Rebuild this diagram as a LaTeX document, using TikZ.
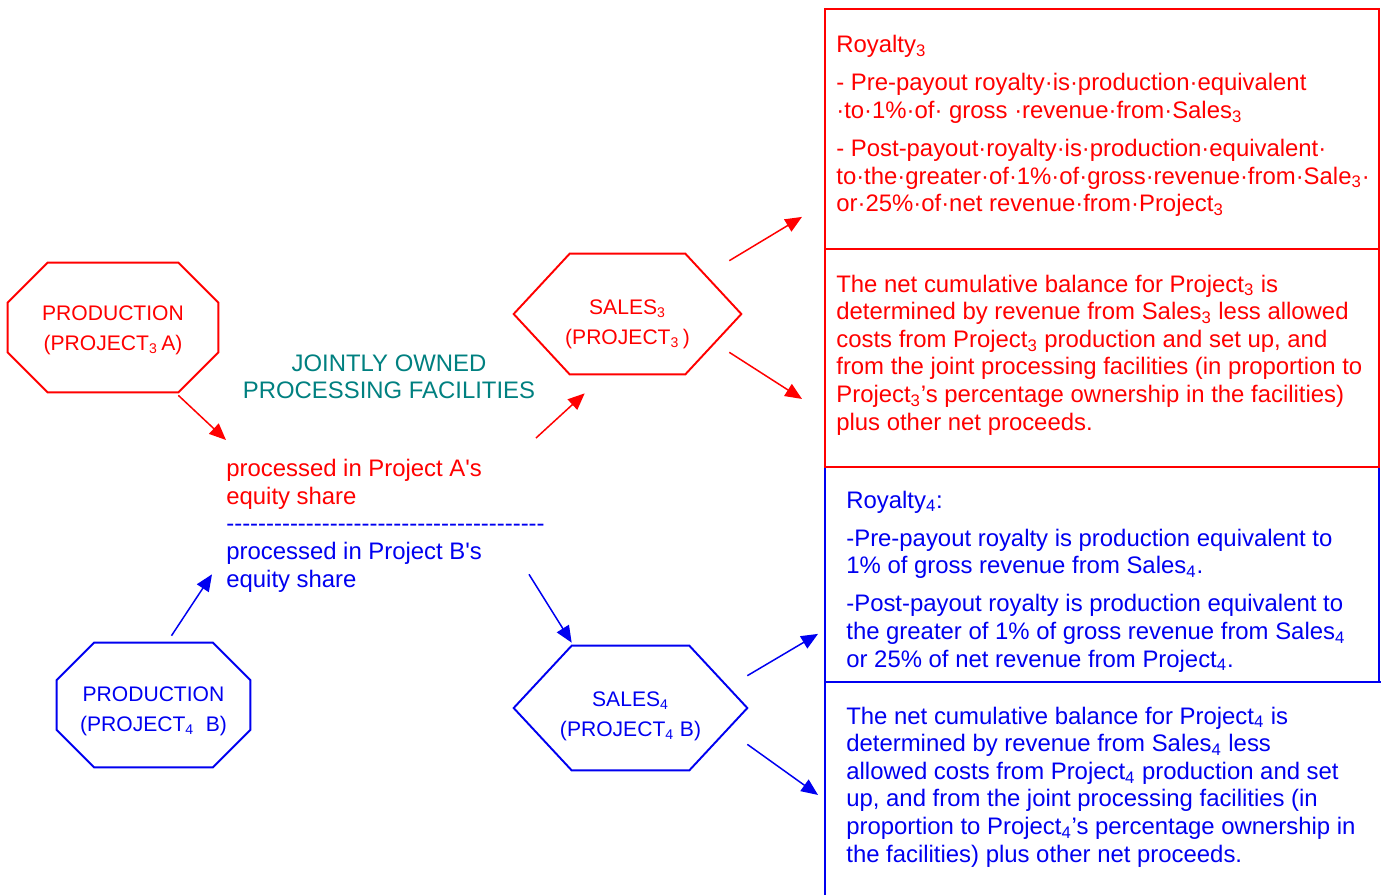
\documentclass[tikz,border=0pt]{standalone}
\usepackage{fontspec}
\setmainfont{Liberation Sans}[Ligatures=TeXOff]
\usetikzlibrary{positioning,arrows.meta}
\definecolor{pjred}{RGB}{255,0,0}
\definecolor{pjblue}{RGB}{0,0,240}
\definecolor{facteal}{RGB}{0,128,128}
\newcommand{\octoline}[3]{\draw[#3, line width=1.1pt] ([xshift=#2]#1.north west) -- ([xshift=-#2]#1.north east) -- ([yshift=-#2]#1.north east) -- ([yshift=#2]#1.south east) -- ([xshift=-#2]#1.south east) -- ([xshift=#2]#1.south west) -- ([yshift=#2]#1.south west) -- ([yshift=-#2]#1.north west) -- cycle;}
\newcommand{\hexline}[3]{\draw[#3, line width=1.1pt] ([xshift=#2]#1.north west) -- ([xshift=-#2]#1.north east) -- (#1.east) -- ([xshift=-#2]#1.south east) -- ([xshift=#2]#1.south west) -- (#1.west) -- cycle;}

\begin{document}
\begin{tikzpicture}[x=0.02cm, y=-0.02cm,
                    shapebox/.style={inner sep=0pt},
                    shapetext/.style={inner sep=0pt, align=center, font=\fontsize{12}{17}\selectfont},
                    boxnode/.style={draw, line width=1.1pt, anchor=north west, minimum width=11.08cm, inner sep=0pt},
                    boxtext/.style={align=left, inner sep=0pt, font=\fontsize{13.6}{15.7}\selectfont},
                    flow/.style={-{Triangle[length=9.5pt,width=8pt]}, line width=0.85pt}]
    \useasboundingbox (0,0) rectangle (1381,894);
    \clip (0,0) rectangle (1381,894);
    % shapes
    \node[shapebox, minimum width=4.2cm, minimum height=2.58cm]  (prodA)  at (113,327.5) {};
    \node[shapebox, minimum width=3.86cm, minimum height=2.48cm] (prodB)  at (153.5,705) {};
    \node[shapebox, minimum width=4.54cm, minimum height=2.4cm]  (sales3) at (627.5,314) {};
    \node[shapebox, minimum width=4.66cm, minimum height=2.48cm] (sales4) at (630.5,708) {};
    \octoline{prodA}{0.8cm}{pjred}
    \octoline{prodB}{0.75cm}{pjblue}
    \hexline{sales3}{1.12cm}{pjred}
    \hexline{sales4}{1.16cm}{pjblue}
    \node[shapetext, pjred]  (prodAtext)  at ([yshift=-0.05cm]prodA.center)  {PRODUCTION\\(PROJECT\textsubscript{3}\,A)};
    \node[shapetext, pjblue] (prodBtext)  at ([yshift=-0.12cm]prodB.center)  {PRODUCTION\\(PROJECT\textsubscript{4}~ B)};
    \node[shapetext, pjred]  (sales3text) at ([yshift=-0.2cm]sales3.center)  {SALES\textsubscript{3}\\(PROJECT\textsubscript{3}\,)};
    \node[shapetext, pjblue] (sales4text) at ([yshift=-0.16cm]sales4.center) {SALES\textsubscript{4}\\(PROJECT\textsubscript{4} B)};
    % texts
    \node[boxtext, facteal, align=center, font=\fontsize{13.6}{15.3}\selectfont] (joint) at (389,377) {JOINTLY OWNED\\PROCESSING FACILITIES};
    \node[boxtext, pjred, anchor=north west] (proc) at (226,459) {processed in Project A's\\equity share\\\color{pjblue}----------------------------------------\\\color{pjblue}processed in Project B's\\\color{pjblue}equity share};
    % boxes
    \node[boxnode, draw=pjblue, minimum height=4.3cm] (box3) at (824,466) {};
    \node[boxnode, draw=pjblue, minimum width=11.4cm, minimum height=4.4cm] (box4) at (824,681) {};
    \node[boxnode, draw=pjred, minimum height=4.8cm] (box1) at (824,8) {};
    \node[boxnode, draw=pjred, minimum height=4.36cm] (box2) at (824,248) {};
    \node[boxtext, pjred, right=0.24cm of box1.west, yshift=0.06cm] (roy3) {Royalty\textsubscript{3}\\[6pt]
        - Pre-payout royalty·is·production·equivalent\\
        ·to·1\%·of· gross ·revenue·from·Sales\textsubscript{3}\\[6pt]
        - Post-payout·royalty·is·production·equivalent·\\
        to·the·greater·of·1\%·of·gross·revenue·from·Sale\textsubscript{3}·\\
        or·25\%·of·net revenue·from·Project\textsubscript{3}};
    \node[boxtext, pjred, right=0.24cm of box2.west, yshift=0.06cm] (bal3) {The net cumulative balance for Project\textsubscript{3} is\\
        determined by revenue from Sales\textsubscript{3} less allowed\\
        costs from Project\textsubscript{3} production and set up, and\\
        from the joint processing facilities (in proportion to\\
        Project\textsubscript{3}’s percentage ownership in the facilities)\\
        plus other net proceeds.};
    \node[boxtext, pjblue, right=0.44cm of box3.west, yshift=-0.14cm] (roy4) {Royalty\textsubscript{4}:\\[6pt]
        -Pre-payout royalty is production equivalent to\\
        1\% of gross revenue from Sales\textsubscript{4}.\\[6pt]
        -Post-payout royalty is production equivalent to\\
        the greater of 1\% of gross revenue from Sales\textsubscript{4}\\
        or 25\% of net revenue from Project\textsubscript{4}.};
    \node[boxtext, pjblue, right=0.44cm of box4.west, yshift=0.1cm] (bal4) {The net cumulative balance for Project\textsubscript{4} is\\
        determined by revenue from Sales\textsubscript{4} less\\
        allowed costs from Project\textsubscript{4} production and set\\
        up, and from the joint processing facilities (in\\
        proportion to Project\textsubscript{4}’s percentage ownership in\\
        the facilities) plus other net proceeds.};
    % arrows
    \draw[flow, pjred] ([shift={(-40,3)}]prodA.south east) -- ([shift={(0,-19)}]proc.north west);
    \draw[flow, pjblue] ([shift={(18,-7)}]prodB.north) -- ([shift={(-14,-18)}]proc.south west);
    \draw[flow, pjred] ([shift={(-9,-21)}]proc.north east) -- ([shift={(71,19)}]sales3.south west);
    \draw[flow, pjblue] ([shift={(-16,-18)}]proc.south east) -- ([shift={(58,-3)}]sales4.north west);
    \draw[flow, pjred] ([shift={(-12,7)}]sales3.north east) -- ([shift={(-22,-33)}]box1.south west);
    \draw[flow, pjred] ([shift={(-12,-22)}]sales3.south east) -- ([shift={(-22,41)}]box2.west);
    \draw[flow, pjblue] ([shift={(0,30)}]sales4.north east) -- ([shift={(-6,-49)}]box3.south west);
    \draw[flow, pjblue] ([shift={(0,-26)}]sales4.south east) -- ([shift={(-6,3)}]box4.west);
\end{tikzpicture}
\end{document}
